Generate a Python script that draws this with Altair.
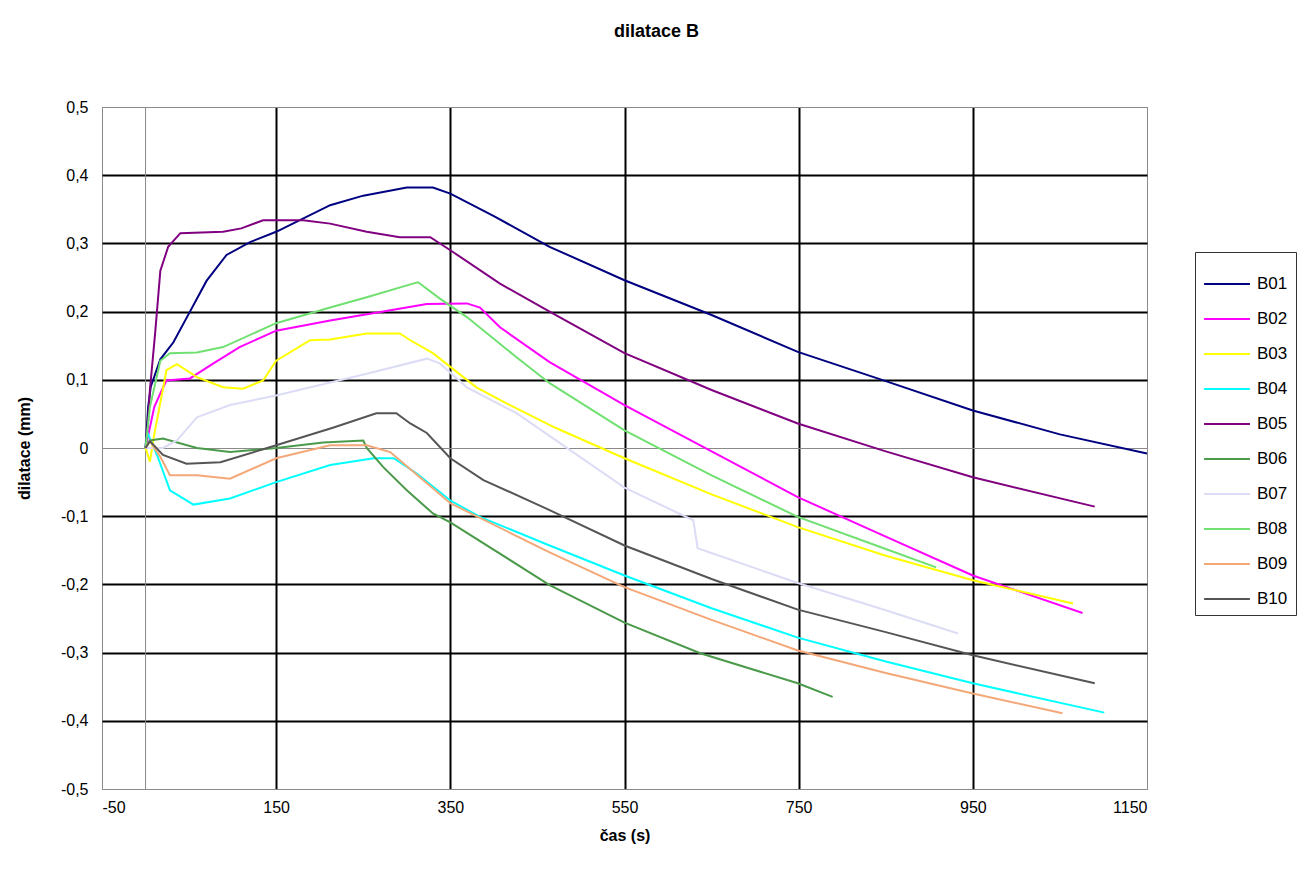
import altair as alt
import pandas as pd

series_names = ["B01", "B02", "B03", "B04", "B05", "B06", "B07", "B08", "B09", "B10"]
series_colors = ["#000080", "#FF00FF", "#FFFF00", "#00FFFF", "#800080",
                 "#4a9a4a", "#dcdcf6", "#70e070", "#f4a878", "#555555"]
series_widths = [2, 2, 2, 2, 2, 1, 1, 1, 1, 1]

B01_x = [0, 3, 6, 17, 32, 51, 70, 93, 120, 150, 212, 250, 300, 330, 350, 400, 464, 550, 650, 749, 850, 950, 1050, 1150]
B01_y = [0, 0.06, 0.09, 0.13, 0.155, 0.2, 0.245, 0.283, 0.302, 0.317, 0.356, 0.37, 0.382, 0.382, 0.373, 0.34, 0.295, 0.246, 0.195, 0.141, 0.098, 0.055, 0.02, -0.008]

B02_x = [0, 5, 10, 17, 24, 51, 78, 108, 150, 212, 273, 323, 369, 384, 407, 464, 550, 650, 749, 850, 950, 1076]
B02_y = [0, 0.03, 0.06, 0.08, 0.099, 0.102, 0.124, 0.148, 0.172, 0.187, 0.2, 0.211, 0.212, 0.206, 0.177, 0.126, 0.063, -0.005, -0.072, -0.13, -0.187, -0.242]

B03_x = [0, 5, 10, 19, 24, 36, 59, 89, 112, 135, 150, 189, 212, 254, 292, 304, 330, 350, 380, 415, 470, 550, 650, 749, 850, 950, 1065]
B03_y = [0, -0.02, 0.02, 0.08, 0.114, 0.123, 0.104, 0.089, 0.087, 0.099, 0.128, 0.158, 0.159, 0.168, 0.168, 0.158, 0.139, 0.119, 0.089, 0.065, 0.03, -0.015, -0.068, -0.116, -0.158, -0.194, -0.228]

B04_x = [0, 2, 14, 28, 55, 97, 150, 212, 262, 285, 311, 350, 384, 464, 550, 650, 749, 850, 950, 1101]
B04_y = [0, 0.023, -0.013, -0.062, -0.083, -0.074, -0.05, -0.025, -0.015, -0.015, -0.037, -0.077, -0.101, -0.143, -0.187, -0.235, -0.278, -0.313, -0.345, -0.388]

B05_x = [0, 3, 5, 11, 17, 26, 40, 89, 110, 135, 181, 212, 254, 292, 327, 350, 407, 464, 550, 650, 749, 850, 950, 1090]
B05_y = [0, 0.04, 0.085, 0.168, 0.26, 0.295, 0.315, 0.317, 0.322, 0.334, 0.334, 0.329, 0.317, 0.309, 0.309, 0.29, 0.241, 0.2, 0.139, 0.085, 0.036, -0.005, -0.043, -0.086]

B06_x = [0, 5, 20, 59, 97, 150, 204, 250, 254, 273, 300, 330, 350, 464, 550, 637, 749, 789]
B06_y = [0, 0.011, 0.014, 0, -0.006, 0, 0.008, 0.011, 0, -0.028, -0.062, -0.096, -0.109, -0.201, -0.256, -0.301, -0.345, -0.365]

B07_x = [0, 20, 36, 59, 97, 150, 212, 254, 323, 338, 369, 426, 550, 629, 634, 749, 850, 933]
B07_y = [0, 0.0, 0.011, 0.045, 0.063, 0.077, 0.096, 0.109, 0.131, 0.124, 0.089, 0.051, -0.058, -0.106, -0.147, -0.198, -0.238, -0.272]

B08_x = [0, 5, 17, 28, 59, 89, 150, 212, 254, 307, 313, 338, 369, 426, 464, 550, 650, 749, 850, 908]
B08_y = [0, 0.06, 0.128, 0.139, 0.14, 0.148, 0.183, 0.206, 0.221, 0.241, 0.243, 0.219, 0.192, 0.133, 0.095, 0.026, -0.04, -0.101, -0.148, -0.175]

B09_x = [0, 5, 17, 28, 59, 97, 150, 212, 254, 281, 292, 350, 464, 550, 650, 749, 850, 950, 1053]
B09_y = [0, 0.01, -0.013, -0.04, -0.04, -0.045, -0.015, 0.004, 0.004, -0.006, -0.018, -0.081, -0.153, -0.204, -0.252, -0.297, -0.33, -0.36, -0.389]

B10_x = [0, 5, 20, 47, 86, 150, 216, 265, 288, 304, 323, 350, 388, 464, 550, 650, 749, 850, 950, 1090]
B10_y = [0, 0.01, -0.01, -0.023, -0.021, 0.004, 0.03, 0.051, 0.051, 0.036, 0.022, -0.015, -0.047, -0.091, -0.143, -0.192, -0.237, -0.27, -0.304, -0.345]

x_ticks = [-50, 150, 350, 550, 750, 950, 1150]
y_ticks = [-0.5, -0.4, -0.3, -0.2, -0.1, 0, 0.1, 0.2, 0.3, 0.4, 0.5]

all_series = {
    "B01": (B01_x, B01_y), "B02": (B02_x, B02_y), "B03": (B03_x, B03_y),
    "B04": (B04_x, B04_y), "B05": (B05_x, B05_y), "B06": (B06_x, B06_y),
    "B07": (B07_x, B07_y), "B08": (B08_x, B08_y), "B09": (B09_x, B09_y),
    "B10": (B10_x, B10_y),
}

rows = []
for name, (xs, ys) in all_series.items():
    for i, (xv, yv) in enumerate(zip(xs, ys)):
        rows.append({"series": name, "t": xv, "d": yv, "i": i})
df = pd.DataFrame(rows)

FONT = "Liberation Sans"
EDGE = "#8a8a8a"

x_edge = "datum.value == -50 || datum.value == 1150"
y_edge = "abs(datum.value) < 1e-9 || abs(datum.value) > 0.49"

x_scale = alt.Scale(domain=[-50, 1150], nice=False, zero=False)
y_scale = alt.Scale(domain=[-0.5, 0.5], nice=False, zero=False)

lines = alt.Chart(df).mark_line(interpolate="linear").encode(
    x=alt.X("t:Q", scale=x_scale,
            axis=alt.Axis(values=x_ticks, title="čas (s)",
                          labelExpr="replace(format(datum.value, 'd'), '\u2212', '-')",
                          grid=True,
                          gridColor={"condition": {"test": x_edge, "value": EDGE}, "value": "#000000"},
                          gridWidth={"condition": {"test": x_edge, "value": 1}, "value": 2},
                          domain=False, ticks=False, labelPadding=10,
                          labelFontSize=16, labelColor="#000", labelFont=FONT,
                          titleFont=FONT, titleFontSize=16, titleFontWeight="bold",
                          titleColor="#000", titlePadding=12)),
    y=alt.Y("d:Q", scale=y_scale,
            axis=alt.Axis(values=y_ticks, title="dilatace (mm)",
                          labelExpr="abs(datum.value) < 1e-9 ? '0' : replace(replace(format(datum.value, '.1f'), '.', ','), '\u2212', '-')",
                          grid=True,
                          gridColor={"condition": {"test": y_edge, "value": EDGE}, "value": "#000000"},
                          gridWidth={"condition": {"test": y_edge, "value": 1}, "value": 2},
                          domain=False, ticks=False, labelPadding=14,
                          labelFontSize=16, labelColor="#000", labelFont=FONT,
                          titleFont=FONT, titleFontSize=16, titleFontWeight="bold",
                          titleColor="#000", titlePadding=28)),
    color=alt.Color("series:N", scale=alt.Scale(domain=series_names, range=series_colors),
                    legend=alt.Legend(title=None, orient="none", legendX=1093, legendY=145,
                                      symbolType="stroke", symbolSize=2100,
                                      symbolStrokeWidth=2, labelFontSize=17,
                                      labelFont=FONT, labelColor="#000",
                                      rowPadding=3, padding=8, labelOffset=6,
                                      strokeColor="#333", fillColor="white")),
    strokeWidth=alt.StrokeWidth("series:N", scale=alt.Scale(domain=series_names, range=series_widths), legend=None),
    order="i:Q",
)

zero_df = pd.DataFrame({"t": [0]})
zero_rule = alt.Chart(zero_df).mark_rule(color=EDGE, strokeWidth=1).encode(
    x=alt.X("t:Q", scale=x_scale)
)

chart = alt.layer(zero_rule, lines).properties(
    width=1045, height=682,
    title=alt.TitleParams("dilatace B", fontSize=18, fontWeight="bold", font=FONT,
                          color="#000", anchor="middle", offset=58, dx=32),
    autosize=alt.AutoSizeParams(type="none"),
    padding={"left": 94, "top": 99, "right": 157, "bottom": 76},
).configure_view(stroke=EDGE, strokeWidth=1)

chart.save("out.html", embed_options={"renderer": "svg", "actions": False})
